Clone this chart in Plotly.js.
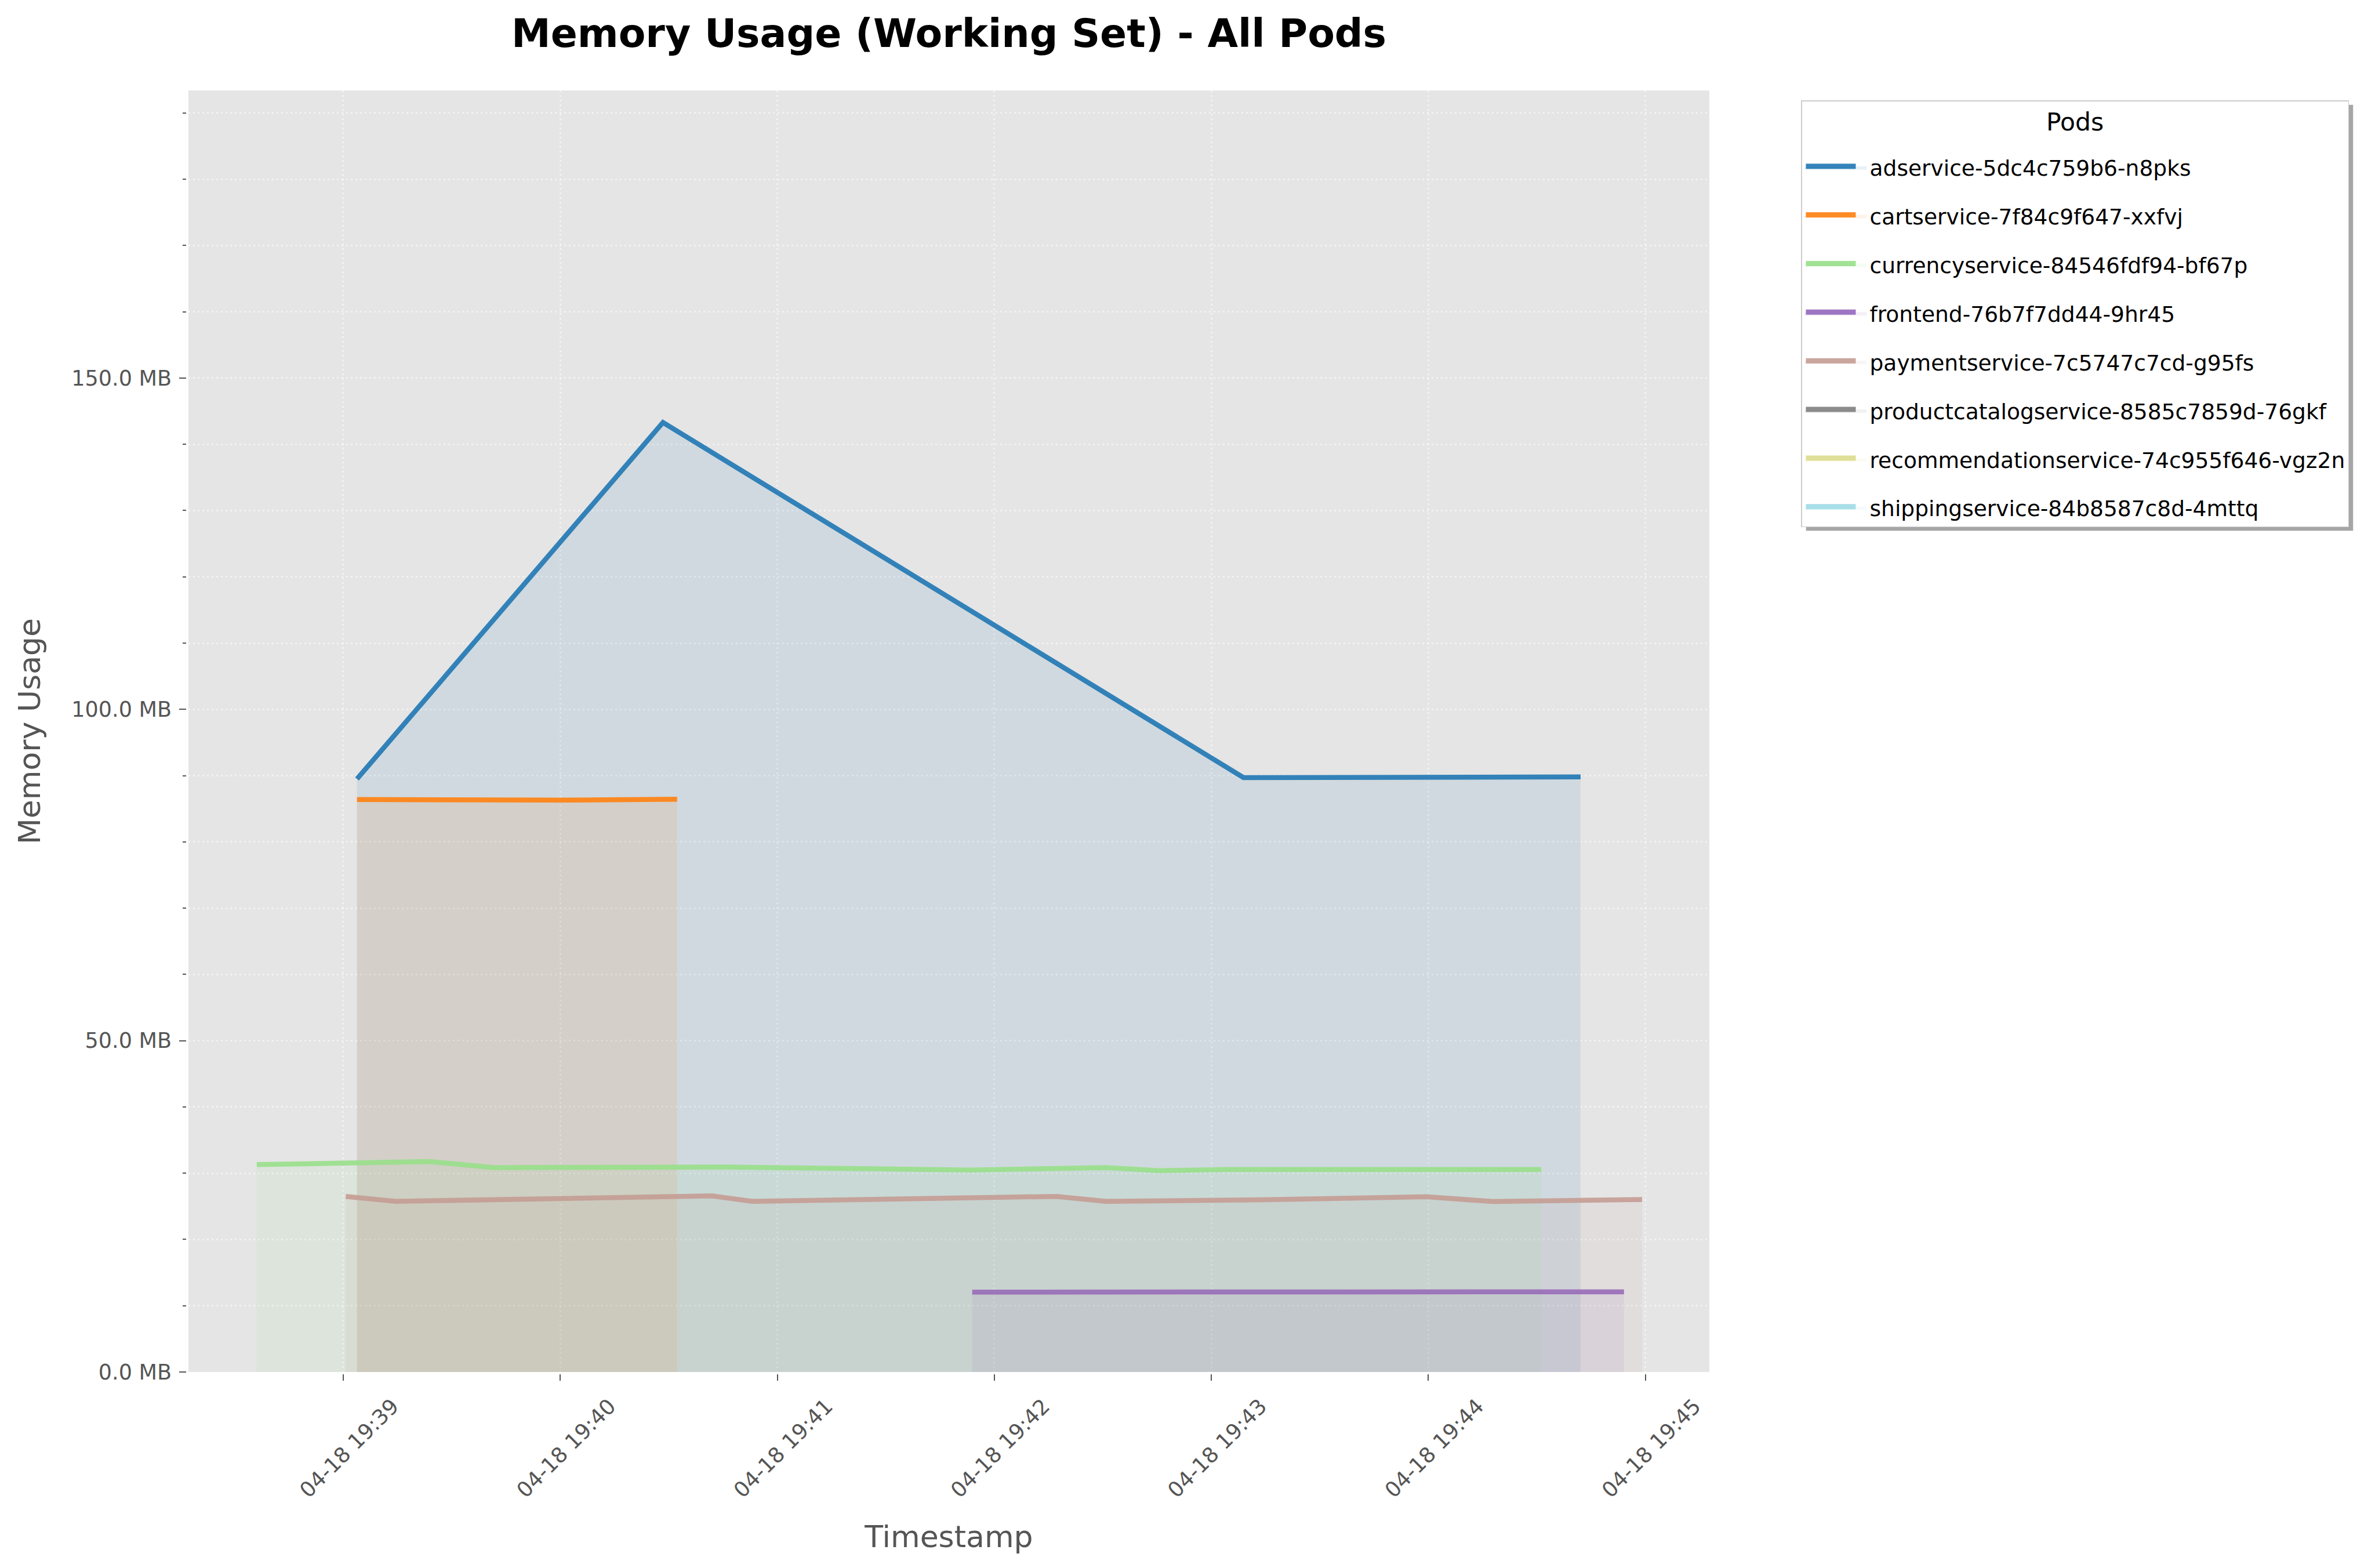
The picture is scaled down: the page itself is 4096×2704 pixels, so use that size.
<!DOCTYPE html>
<html>
<head>
<meta charset="utf-8">
<script src="https://cdn.plot.ly/plotly-3.0.1.min.js"></script>
<style>html,body{margin:0;padding:0;background:#fff;}#chart{width:4096px;height:2704px;}</style>
</head>
<body>
<div id="chart"></div>
<script>
// ---- data ----
const podNames = [
  "adservice-5dc4c759b6-n8pks",
  "cartservice-7f84c9f647-xxfvj",
  "currencyservice-84546fdf94-bf67p",
  "frontend-76b7f7dd44-9hr45",
  "paymentservice-7c5747c7cd-g95fs",
  "productcatalogservice-8585c7859d-76gkf",
  "recommendationservice-74c955f646-vgz2n",
  "shippingservice-84b8587c8d-4mttq"
];
const podColors = ["#1f77b4","#ff7f0e","#98df8a","#9467bd","#c49c94","#7f7f7f","#dbdb8d","#9edae5"];

const adserviceTimes = ["2025-04-18 19:39:03.8","2025-04-18 19:40:28.4","2025-04-18 19:43:08.9","2025-04-18 19:44:42.1"];
const adserviceMB    = [89.5, 143.3, 89.7, 89.8];

const cartserviceTimes = ["2025-04-18 19:39:03.8","2025-04-18 19:40:00.5","2025-04-18 19:40:32.3"];
const cartserviceMB    = [86.4, 86.3, 86.45];

const currencyTimes = ["2025-04-18 19:38:36.1","2025-04-18 19:39:23.9","2025-04-18 19:39:41.5","2025-04-18 19:40:16.2","2025-04-18 19:40:47.2","2025-04-18 19:41:53.3","2025-04-18 19:42:30.9","2025-04-18 19:42:45.5","2025-04-18 19:43:04.9","2025-04-18 19:44:31.2"];
const currencyMB    = [31.3, 31.76, 30.85, 30.96, 30.93, 30.48, 30.85, 30.39, 30.57, 30.57];

const frontendTimes = ["2025-04-18 19:41:53.9","2025-04-18 19:44:54.1"];
const frontendMB    = [12.05, 12.1];

const paymentTimes = ["2025-04-18 19:39:00.7","2025-04-18 19:39:14.6","2025-04-18 19:40:41.9","2025-04-18 19:40:53.1","2025-04-18 19:42:17.2","2025-04-18 19:42:30.9","2025-04-18 19:43:13.8","2025-04-18 19:43:59.4","2025-04-18 19:44:17.9","2025-04-18 19:44:59.1"];
const paymentMB    = [26.5, 25.75, 26.58, 25.75, 26.5, 25.75, 25.98, 26.45, 25.73, 26.03];

const productcatalogTimes = ["2025-04-18 19:39:10.9"];
const productcatalogMB    = [12.3];

const recommendationTimes = ["2025-04-18 19:38:58.8"];
const recommendationMB    = [11.8];

const shippingTimes = ["2025-04-18 19:38:57.9"];
const shippingMB    = [11.9];

const seriesTimes = [adserviceTimes, cartserviceTimes, currencyTimes, frontendTimes, paymentTimes, productcatalogTimes, recommendationTimes, shippingTimes];
const seriesMB    = [adserviceMB, cartserviceMB, currencyMB, frontendMB, paymentMB, productcatalogMB, recommendationMB, shippingMB];

// ---- styling helpers ----
function rgba(hex, a){
  const n = parseInt(hex.slice(1),16);
  return `rgba(${(n>>16)&255},${(n>>8)&255},${n&255},${a})`;
}

const traces = podNames.map((name,i)=>({
  type: "scatter",
  mode: "lines",
  name: name,
  legendgroup: name,
  x: seriesTimes[i],
  y: seriesMB[i],
  line: {color: rgba(podColors[i],0.9), width: 8.5},
  fill: "tozeroy",
  fillcolor: rgba(podColors[i],0.1),
  hoverinfo: "skip"
}));

const FONT = "DejaVu Sans, Liberation Sans, sans-serif";
const gridStyle = {gridcolor: "rgba(255,255,255,0.5)", gridwidth: 3, griddash: "3px,5px"};

const layout = {
  width: 4096, height: 2704,
  margin: {l: 325, r: 1148, t: 156, b: 338, pad: 0},
  paper_bgcolor: "#ffffff",
  plot_bgcolor: "#e5e5e5",
  font: {family: FONT, color: "#555555"},
  title: {
    text: "<b>Memory Usage (Working Set) - All Pods</b>",
    font: {family: FONT, size: 68, color: "#000000"},
    x: 0.5, xref: "paper", xanchor: "center",
    y: 1 - 57/2704, yref: "container", yanchor: "middle"
  },
  xaxis: {
    type: "date",
    range: ["2025-04-18 19:38:17.2", "2025-04-18 19:45:17.7"],
    tick0: "2025-04-18 19:39:00", dtick: 60000,
    tickformat: "%m-%d %H:%M",
    tickangle: -45,
    ticks: "outside", ticklen: 11, tickwidth: 2, tickcolor: "#555555",
    tickfont: {family: FONT, size: 36.5, color: "#555555"},
    ticklabelshift: 85,
    ticklabelstandoff: 8,
    showline: true, linecolor: "#ffffff", linewidth: 4,
    showgrid: true, ...gridStyle,
    zeroline: false,
    automargin: false,
    title: {text: "Timestamp", font: {family: FONT, size: 52, color: "#555555"}, standoff: 42}
  },
  yaxis: {
    range: [0, 193.4],
    tick0: 0, dtick: 50,
    tickformat: ".1f", ticksuffix: " MB",
    ticks: "outside", ticklen: 11.7, tickwidth: 2, tickcolor: "#555555",
    tickfont: {family: FONT, size: 36.5, color: "#555555"},
    ticklabelstandoff: 6,
    showline: true, linecolor: "#ffffff", linewidth: 4,
    showgrid: true, ...gridStyle,
    minor: {dtick: 10, ticks: "outside", ticklen: 6.2, tickwidth: 2, tickcolor: "#555555", showgrid: true, ...gridStyle},
    zeroline: false,
    automargin: false,
    title: {text: "Memory Usage", font: {family: FONT, size: 52, color: "#555555"}, standoff: 38}
  },
  showlegend: true,
  legend: {
    x: (3106-325)/2623, xanchor: "left",
    y: (2366-173)/2210, yanchor: "top",
    bgcolor: "#ffffff", bordercolor: "#cccccc", borderwidth: 1.5,
    font: {family: FONT, size: 37.6, color: "#000000"},
    // the larger title font only reserves a taller title row; the visible word is 42.5px
    title: {text: "<span style='font-size:42.5px'>Pods</span>", side: "top center", font: {family: FONT, size: 64, color: "#000000"}},
    itemwidth: 107,
    tracegroupgap: 32,
    traceorder: "grouped"
  }
};

Plotly.newPlot("chart", traces, layout, {staticPlot: true, displayModeBar: false}).then(gd => {
  // soft drop shadow behind the legend box, placed from the drawn legend's own size
  const bg = gd.querySelector(".legend .bg");
  if (!bg) return gd;
  const r = bg.getBoundingClientRect();
  const g = gd.getBoundingClientRect();
  const sz = gd._fullLayout._size;
  const dx = 8, dy = 7;
  const px0 = r.left - g.left + dx, px1 = r.right - g.left + dx;
  const py0 = r.top - g.top + dy, py1 = r.bottom - g.top + dy;
  return Plotly.relayout(gd, {shapes: [{
    type: "rect", xref: "paper", yref: "paper", layer: "above",
    x0: (px0 - sz.l)/sz.w, x1: (px1 - sz.l)/sz.w,
    y0: (sz.t + sz.h - py1)/sz.h, y1: (sz.t + sz.h - py0)/sz.h,
    fillcolor: "rgba(0,0,0,0.35)", line: {width: 0}
  }]});
}).then(() => {
  const gd = document.getElementById("chart");
  // legend handles: thicker and a little shorter, as in the reference
  gd.querySelectorAll(".legend .legendlines path").forEach(p => {
    const d = p.getAttribute("d") || "";
    const m = d.match(/^M\s*([\d.\-]+)[ ,]([\d.\-]+)/);
    if (m) p.setAttribute("d", `M${parseFloat(m[1]) + 2},${m[2]}h86`);
    p.style.strokeWidth = "9px";
  });
  // raise the legend title word within its (taller) row
  const t = gd.querySelector(".legend .legendtitletext");
  if (t && t.getAttribute("y") !== null) {
    t.setAttribute("y", parseFloat(t.getAttribute("y")) - 33);
    t.querySelectorAll("tspan[y]").forEach(s => s.setAttribute("y", parseFloat(s.getAttribute("y")) - 33));
  }
});
</script>
</body>
</html>
